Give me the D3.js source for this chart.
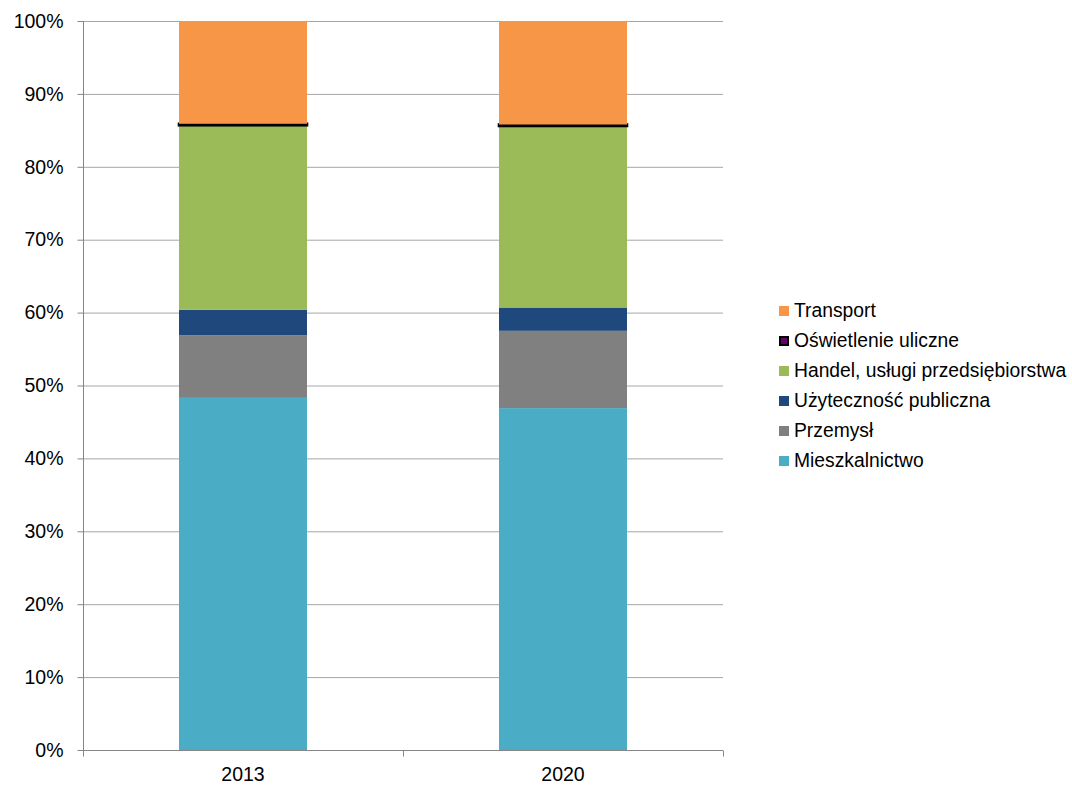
<!DOCTYPE html>
<html><head><meta charset="utf-8">
<script src="https://cdn.jsdelivr.net/npm/d3@7"></script>
<style>body{margin:0;background:#fff}svg{display:block}text{font-family:"Liberation Sans",Arial,sans-serif}</style>
</head><body><svg id="c" width="1072" height="785"></svg>
<script>
const years = ["2013", "2020"];
const seriesNames = ["Mieszkalnictwo", "Przemysł", "Użyteczność publiczna", "Handel, usługi przedsiębiorstwa", "Oświetlenie uliczne", "Transport"];
const mieszkalnictwo = [48.3, 46.9];
const przemysl = [8.6, 10.6];
const uzytecznosc = [3.5, 3.2];
const handel = [25.3, 24.9];
const oswietlenie = [0.2, 0.2];
const transport = [14.1, 14.2];
const yTicks = [0, 10, 20, 30, 40, 50, 60, 70, 80, 90, 100];
const colors = ["#4BACC6", "#808080", "#1F497D", "#9BBB59", "#660066", "#F79646"];

const values = [mieszkalnictwo, przemysl, uzytecznosc, handel, oswietlenie, transport];
const rows = years.map((y, i) => {
  const r = {year: y};
  seriesNames.forEach((s, k) => r[s] = values[k][i]);
  return r;
});
const stacked = d3.stack().keys(seriesNames)(rows);

const svg = d3.select("#c");
const L = 83, R = 723, T = 21, B = 750;
const x = d3.scaleBand().domain(years).range([L, R]).paddingInner(0.6).paddingOuter(0.3);
const xb = d3.scaleBand().domain(years).range([L, R]);
const y = d3.scaleLinear().domain([0, 100]).range([B, T]);

// gridlines
svg.append("g").selectAll("line").data(yTicks.filter(t => t > 0)).join("line")
  .attr("x1", L).attr("x2", R).attr("y1", d => y(d) + 0.5).attr("y2", d => y(d) + 0.5)
  .attr("stroke", "#a6a6a6").attr("stroke-width", 1);

// bars
const g = svg.append("g");
stacked.forEach((layer, k) => {
  const isO = seriesNames[k] === "Oświetlenie uliczne";
  g.selectAll(null).data(layer).join("rect")
    .attr("x", d => x(d.data.year))
    .attr("width", x.bandwidth())
    .attr("y", d => y(d[1]))
    .attr("height", d => y(d[0]) - y(d[1]))
    .attr("fill", colors[k])
    .attr("stroke", isO ? "#000" : "none")
    .attr("stroke-width", isO ? 2.6 : 0);
});

// axes
const yAxis = d3.axisLeft(y).tickValues(yTicks).tickFormat(d => d + "%").tickSize(6).tickPadding(14);
const ya = svg.append("g").attr("transform", `translate(${L + 0.5},0)`).call(yAxis);
ya.selectAll("text").attr("font-size", "19.5px").attr("fill", "#000").attr("font-family", "Liberation Sans, Arial, sans-serif");
ya.selectAll("line,path").attr("stroke", "#868686");
ya.select(".domain").attr("d", `M0,${T}V${B + 0.5}`);

const xa = svg.append("g").attr("transform", `translate(0,${B + 0.5})`);
xa.append("line").attr("x1", L).attr("x2", R).attr("stroke", "#868686");
xa.selectAll("line.t").data([L, ...years.map(v => xb(v) + xb.bandwidth())]).join("line")
  .attr("class", "t").attr("x1", d => d + 0.5).attr("x2", d => d + 0.5).attr("y1", 0).attr("y2", 6).attr("stroke", "#868686");
xa.selectAll("text").data(years).join("text")
  .attr("x", d => xb(d) + xb.bandwidth() / 2).attr("y", 30.5)
  .attr("text-anchor", "middle").attr("font-size", "19.5px").text(d => d);

// legend
const legendOrder = seriesNames.map((s, k) => ({s, k})).reverse();
const lg = svg.append("g");
legendOrder.forEach((d, i) => {
  const by = 317 + i * 30;
  if (d.s === "Oświetlenie uliczne") {
    lg.append("rect").attr("x", 780).attr("y", by - 10).attr("width", 8).attr("height", 8)
      .attr("fill", colors[d.k]).attr("stroke", "#000").attr("stroke-width", 2);
  } else {
    lg.append("rect").attr("x", 779).attr("y", by - 11).attr("width", 10).attr("height", 10).attr("fill", colors[d.k]);
  }
  lg.append("text").attr("x", 794).attr("y", by).attr("font-size", "19.3px").attr("fill", "#000").text(d.s);
});
</script></body></html>
